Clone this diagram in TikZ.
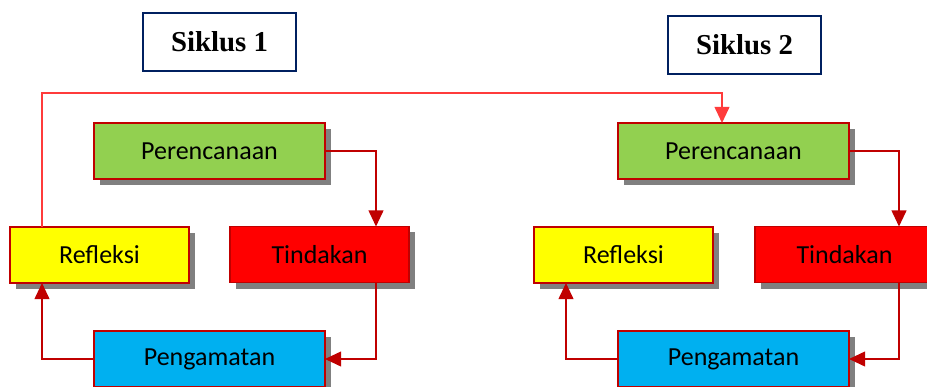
\documentclass[tikz,border=0pt]{standalone}
\usepackage{fontspec}
\setmainfont{Liberation Serif}
\newfontfamily\boxfont{Carlito}
\usepackage{tikz}
\usetikzlibrary{arrows.meta,shadows}

\definecolor{boxborder}{HTML}{C00000}
\definecolor{titleborder}{HTML}{002060}
\definecolor{plangreen}{HTML}{92D050}
\definecolor{reflyellow}{HTML}{FFFF00}
\definecolor{actred}{HTML}{FF0000}
\definecolor{obsblue}{HTML}{00B0F0}
\definecolor{backline}{HTML}{FF3B3B}

\begin{document}
\begin{tikzpicture}[x=0.025cm,y=-0.025cm,
		stage/.style={draw=boxborder, line width=1.3pt, inner sep=0pt, outer sep=0pt,
			minimum height=1.4cm, font=\boxfont\fontsize{18.5}{20}\selectfont,
			drop shadow={shadow xshift=0.15cm, shadow yshift=-0.15cm, fill=black!50, opacity=1}},
		shortstage/.style={stage, minimum width=4.475cm},
		longstage/.style={stage, minimum width=5.775cm},
		title/.style={draw=titleborder, line width=1.3pt, fill=white, minimum width=3.825cm,
			minimum height=1.45cm, font=\fontsize{20.5}{22}\selectfont\bfseries},
		flow/.style={draw=boxborder, line width=1pt, -{Triangle[length=0.4cm,width=0.37cm]}},
		back/.style={draw=backline, line width=1pt, -{Triangle[length=0.4cm,width=0.37cm]}}]
	\useasboundingbox (0,0) rectangle (927,387);
	
	% Titles
	\node[title] (sik1) at (219.5,42) {Siklus 1};
	\node[title] (sik2) at (744.5,45) {Siklus 2};
	
	% Cycle 1
	\node[longstage, fill=plangreen] (per1) at (209.5,151) {Perencanaan};
	\node[shortstage, fill=actred] (tin1) at (319.5,254.5) {Tindakan};
	\node[longstage, fill=obsblue] (pen1) at (209.5,359) {Pengamatan};
	\node[shortstage, fill=reflyellow] (ref1) at (99.5,255) {Refleksi};
	
	% Cycle 2
	\node[longstage, fill=plangreen] (per2) at (733.5,151) {Perencanaan};
	\node[shortstage, fill=actred] (tin2) at (844.5,254.5) {Tindakan};
	\node[longstage, fill=obsblue] (pen2) at (733.5,359) {Pengamatan};
	\node[shortstage, fill=reflyellow] (ref2) at (623.5,255) {Refleksi};
	
	% Columns of the connectors
	\coordinate (col1) at (376,0);
	\coordinate (lef1) at (42,0);
	\coordinate (col2) at (899,0);
	\coordinate (lef2) at (566,0);
	\coordinate (up1) at (42,93);
	\coordinate (up2) at (722,93);
	
	% Connectors of cycle 1
	\draw[flow] (per1.east) -| (tin1.north -| col1);
	\draw[flow] (tin1.south -| col1) |- (pen1.east);
	\draw[flow] (pen1.west) -| (ref1.south -| lef1);
	
	% Connectors of cycle 2
	\draw[flow] (per2.east) -| (tin2.north -| col2);
	\draw[flow] (tin2.south -| col2) |- (pen2.east);
	\draw[flow] (pen2.west) -| (ref2.south -| lef2);
	
	% From cycle 1 to cycle 2
	\draw[back] (ref1.north -| up1) -- (up1) -- (up2) -- (per2.north -| up2);
\end{tikzpicture}
\end{document}
